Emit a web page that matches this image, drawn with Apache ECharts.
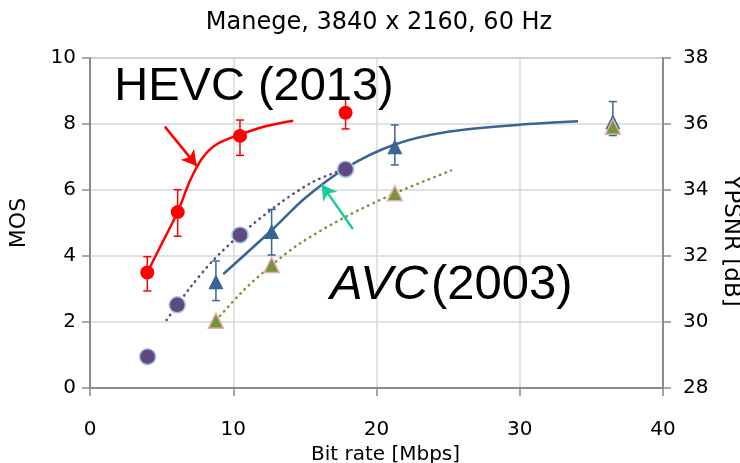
<!DOCTYPE html>
<html>
<head>
<meta charset="utf-8">
<script src="https://cdn.jsdelivr.net/npm/echarts@6/dist/echarts.min.js"></script>
</head>
<body style="margin:0;background:#fff;">
<div id="chart" style="width:740px;height:463px;"></div>
<script type="text/javascript">

    // MOS (left axis): HEVC red circles, AVC blue triangles
    var hevcMos = [[4.0, 3.5], [6.12, 5.33], [10.47, 7.64], [17.84, 8.34]];
    var hevcMosErr = [[4.0, 2.94, 3.98], [6.12, 4.6, 6.01], [10.47, 7.05, 8.12], [17.84, 7.85, 8.76]];
    var avcMos = [[8.79, 3.22], [12.68, 4.74], [21.28, 7.31], [36.5, 8.07]];
    var avcMosErr = [[8.79, 2.65, 3.85], [12.68, 4.03, 5.41], [21.28, 6.76, 7.97], [36.5, 7.65, 8.68]];

    // fitted curves
    var hevcMosFit = [[4.0, 3.5], [5.1, 4.45], [6.12, 5.33], [7.0, 6.3], [7.9, 7.0],
        [8.9, 7.4], [10.47, 7.68], [12.33, 7.94], [14.19, 8.1]];
    var avcMosFit = [[9.3, 3.45], [12.68, 4.78], [15.0, 5.75], [17.9, 6.68],
        [21.28, 7.38], [25.1, 7.77], [29.8, 7.97], [34.07, 8.08]];

    // YPSNR (right axis)
    var hevcPsnr = [[4.02, 28.95], [6.09, 30.52], [10.47, 32.64], [17.84, 34.63]];
    var avcPsnr = [[8.79, 30.04], [12.68, 31.73], [21.28, 33.9], [36.5, 35.92]];
    var hevcPsnrFit = [[5.35, 30.06], [7.0, 31.05], [8.58, 31.86], [10.47, 32.64], [13.26, 33.6], [15.58, 34.25], [17.66, 34.62]];
    var avcPsnrFit = [[8.8, 30.05], [10.7, 30.95], [12.68, 31.72], [14.65, 32.38], [17.9, 33.2], [21.28, 33.9], [25.2, 34.59]];

    var font = 'DejaVu Sans';

    var myChart = echarts.init(document.getElementById('chart'));

    // error bars with small caps
    function errorBars(color) {
        return function (params, api) {
            var x = api.value(0);
            var lo = api.coord([x, api.value(1)]);
            var hi = api.coord([x, api.value(2)]);
            var w = 4;
            var st = { stroke: color, lineWidth: 1.5 };
            return {
                type: 'group',
                children: [
                    { type: 'line', shape: { x1: lo[0], y1: lo[1], x2: hi[0], y2: hi[1] }, style: st },
                    { type: 'line', shape: { x1: lo[0] - w, y1: lo[1], x2: lo[0] + w, y2: lo[1] }, style: st },
                    { type: 'line', shape: { x1: hi[0] - w, y1: hi[1], x2: hi[0] + w, y2: hi[1] }, style: st }
                ]
            };
        };
    }

    var axisLine = { show: true, lineStyle: { color: '#8C8C8C', width: 2 } };
    var axisTick = { show: true, length: 8, lineStyle: { color: '#8C8C8C', width: 1.5 } };
    var splitLine = { show: true, lineStyle: { color: '#D9D9D9', width: 1.5 } };
    var labelStyle = { color: '#000', fontFamily: font, fontSize: 20 };
    var dotted = [0.5, 5.5];

    var option = {
        animation: false,
        title: {
            text: 'Manege, 3840 x 2160, 60 Hz',
            left: 374,
            textAlign: 'center',
            top: 6,
            textStyle: { fontFamily: font, fontSize: 24, fontWeight: 'normal', color: '#000' }
        },
        grid: {
            left: 90, right: 77, top: 58, bottom: 75, containLabel: false, outerBoundsMode: 'none',
            show: true, borderColor: '#A6A6A6', borderWidth: 1.5
        },
        xAxis: {
            type: 'value', min: 0, max: 40, interval: 10,
            name: 'Bit rate [Mbps]', nameLocation: 'middle', nameGap: 50,
            nameTextStyle: { color: '#000', fontFamily: font, fontSize: 20, padding: [0, 0, 0, 18] },
            axisLine: axisLine, axisTick: axisTick, splitLine: splitLine,
            axisLabel: Object.assign({ margin: 32 }, labelStyle)
        },
        yAxis: [
            {
                type: 'value', min: 0, max: 10, interval: 2,
                name: 'MOS', nameLocation: 'middle', nameGap: 60, nameRotate: 90,
                nameTextStyle: { color: '#000', fontFamily: font, fontSize: 22 },
                axisLine: axisLine, axisTick: axisTick, splitLine: splitLine,
                axisLabel: Object.assign({ margin: 14 }, labelStyle)
            },
            {
                type: 'value', min: 28, max: 38, interval: 2, position: 'right',
                name: 'YPSNR [dB]', nameLocation: 'middle', nameGap: 56, nameRotate: -90, nameMoveOverlap: false,
                nameTextStyle: { color: '#000', fontFamily: font, fontSize: 23, padding: [0, 0, 0, 36] },
                axisLine: axisLine, axisTick: axisTick, splitLine: { show: false },
                axisLabel: Object.assign({ margin: 20 }, labelStyle)
            }
        ],
        graphic: [
            {
                type: 'text', x: 254, y: 87, z: 100,
                style: { text: 'HEVC (2013)', fontFamily: 'Liberation Sans', fontSize: 47, fill: '#000', align: 'center', verticalAlign: 'middle' }
            },
            {
                type: 'text', x: 330, y: 285, z: 100,
                style: { text: 'AVC', fontFamily: 'Liberation Sans', fontStyle: 'italic', fontSize: 49, fill: '#000', align: 'left', verticalAlign: 'middle' }
            },
            {
                type: 'text', x: 431, y: 285, z: 100,
                style: { text: '(2003)', fontFamily: 'Liberation Sans', fontSize: 49, fill: '#000', align: 'left', verticalAlign: 'middle' }
            }
        ],
        series: [
            {
                name: 'AVC PSNR fit', type: 'line', yAxisIndex: 1, data: avcPsnrFit, smooth: 0.3, symbol: 'none',
                lineStyle: { color: '#77933C', width: 2.5, type: dotted, cap: 'round' }
            },
            {
                name: 'HEVC PSNR fit', type: 'line', yAxisIndex: 1, data: hevcPsnrFit, smooth: 0.3, symbol: 'none',
                lineStyle: { color: '#604A7B', width: 2.5, type: dotted, cap: 'round' }
            },
            {
                name: 'HEVC MOS fit', type: 'line', data: hevcMosFit, smooth: 0.3, symbol: 'none',
                lineStyle: { color: '#FF0000', width: 2.5 },
                markLine: {
                    silent: true, symbol: ['none', 'arrow'], symbolSize: [13, 15], label: { show: false },
                    lineStyle: { color: '#FF0000', width: 2.5, type: 'solid' },
                    data: [[{ coord: [5.23, 7.92] }, { coord: [7.45, 6.73] }]]
                }
            },
            {
                name: 'AVC MOS fit', type: 'line', data: avcMosFit, smooth: 0.3, symbol: 'none',
                lineStyle: { color: '#3A6496', width: 2.5 },
                markLine: {
                    silent: true, symbol: ['none', 'arrow'], symbolSize: [13, 15], label: { show: false },
                    lineStyle: { color: '#1BCB9B', width: 2.5, type: 'solid' },
                    data: [[{ coord: [18.35, 4.82] }, { coord: [16.17, 6.17] }]]
                }
            },
            { name: 'HEVC MOS err', type: 'custom', data: hevcMosErr, renderItem: errorBars('#FF0000'), z: 3 },
            { name: 'AVC MOS err', type: 'custom', data: avcMosErr, renderItem: errorBars('#3A6496'), z: 3 },
            {
                name: 'HEVC PSNR', type: 'scatter', yAxisIndex: 1, data: hevcPsnr, symbol: 'circle', symbolSize: 16, z: 4,
                itemStyle: { color: '#5F4A80', borderColor: '#9DC3E6', borderWidth: 1.5, opacity: 1 }
            },
            {
                name: 'HEVC MOS', type: 'scatter', data: hevcMos, symbol: 'circle', symbolSize: 14, z: 4,
                itemStyle: { color: '#FF0000', opacity: 1 }
            },
            {
                name: 'AVC MOS', type: 'scatter', data: avcMos, symbol: 'triangle', symbolSize: 15, z: 4,
                itemStyle: { color: '#3A6496', opacity: 1 }
            },
            {
                name: 'AVC PSNR', type: 'scatter', yAxisIndex: 1, data: avcPsnr, symbol: 'triangle', symbolSize: 15, z: 5,
                itemStyle: { color: '#77933C', borderColor: '#E6B0AA', borderWidth: 1.5, opacity: 1 }
            }
        ]
    };
    myChart.setOption(option);
</script>
</body>
</html>
